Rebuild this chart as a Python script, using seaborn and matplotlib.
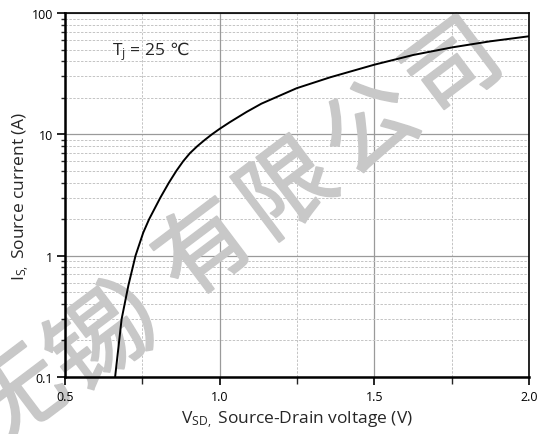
import numpy as np
import pandas as pd
import matplotlib
matplotlib.use("Agg")
import matplotlib.pyplot as plt
import matplotlib.ticker as mticker
import matplotlib.transforms as mtransforms
import matplotlib.patheffects as pe
import seaborn as sns

# Data
vsd = [0.662, 0.683, 0.705, 0.728, 0.753, 0.772, 0.808, 0.836, 0.860, 0.882,
       0.904, 0.928, 0.952, 0.975, 1.000, 1.033, 1.087, 1.135, 1.249, 1.357,
       1.500, 1.626, 1.752, 1.874, 2.000]
i_s = [0.10, 0.30, 0.57, 1.0, 1.55, 2.0, 3.0, 4.0, 5.0, 6.0,
       7.0, 8.0, 9.0, 10.0, 11.1, 12.6, 15.3, 17.9, 24.0, 29.5,
       37.5, 45.1, 52.1, 58.4, 64.3]
x_ticks = [0.5, 1.0, 1.5, 2.0]
x_tick_labels = ["0.5", "1.0", "1.5", "2.0"]
x_minor_ticks = [0.75, 1.25, 1.75]
y_ticks = [0.1, 1, 10, 100]
y_tick_labels = ["0.1", "1", "10", "100"]
annotation_main = "T$_j$ = 25"
annotation_unit = "\u2103"
watermark = "无锡）有限公司"
xlabel = "V$_{SD,}$ Source-Drain voltage (V)"
ylabel = "I$_{S,}$ Source current (A)"

sns.set_theme(style="white")
plt.rcParams['font.family'] = ['Open Sans', 'DejaVu Sans']
plt.rcParams['mathtext.default'] = 'regular'

df = pd.DataFrame({"V": vsd, "I": i_s})

W, H = 542, 435
rect = [65 / W, 1 - 378 / H, (529 - 65) / W, (378 - 14) / H]
fig = plt.figure(figsize=(W / 100, H / 100), dpi=100)


def setup_axis(a):
    a.set_yscale("log")
    a.set_xlim(0.5, 2.0)
    a.set_ylim(0.1, 100)
    a.xaxis.set_major_locator(mticker.FixedLocator(x_ticks))
    a.xaxis.set_minor_locator(mticker.FixedLocator(x_minor_ticks))
    a.yaxis.set_major_locator(mticker.FixedLocator(y_ticks))
    a.yaxis.set_minor_locator(mticker.LogLocator(base=10, subs=np.arange(2, 10), numticks=20))
    a.yaxis.set_minor_formatter(mticker.NullFormatter())


# Background axes: grid only
ax_bg = fig.add_axes(rect, zorder=0)
setup_axis(ax_bg)
ax_bg.grid(which="major", color="#9a9a9a", lw=0.9, ls="-")
ax_bg.grid(which="minor", color="#c4c4c4", lw=0.7, ls=(0, (2.5, 1.5)))
ax_bg.tick_params(which="both", length=0, labelbottom=False, labelleft=False)
for s in ax_bg.spines.values():
    s.set_visible(False)

# Watermark between grid and data, one character at a time
wm_color = "#c8c8c8"
wm_centers = [(20, 400), (97, 347), (160, 300), (206, 253), (289, 193), (372, 132), (455, 72)]
for ch, (px, py) in zip(watermark, wm_centers):
    fig.text(px / W, 1 - py / H, ch, fontsize=67, color=wm_color, rotation=37,
             ha="center", va="center", rotation_mode="anchor",
             family=['Noto Sans CJK SC', 'DejaVu Sans'], zorder=0.5,
             path_effects=[pe.withStroke(linewidth=1.4, foreground=wm_color)])

# Front axes: curve, ticks, labels
ax = fig.add_axes(rect, zorder=1)
ax.set_facecolor("none")
sns.lineplot(data=df, x="V", y="I", sort=False, color="black", lw=1.4, ax=ax)
setup_axis(ax)
ax.xaxis.set_major_formatter(mticker.FixedFormatter(x_tick_labels))
ax.yaxis.set_major_formatter(mticker.FixedFormatter(y_tick_labels))

ax.tick_params(axis="both", which="major", direction="out", length=5.5, width=1.2,
               labelsize=9, colors="black", pad=3, bottom=True, left=True)
ax.tick_params(axis="x", which="major", pad=4)
ax.tick_params(axis="x", which="minor", direction="out", length=5, width=1.0, bottom=True)
ax.tick_params(axis="y", which="minor", direction="out", length=3, width=1.0, left=True)

for side in ["left", "bottom"]:
    ax.spines[side].set_color("black")
    ax.spines[side].set_linewidth(1.8)
for side in ["top", "right"]:
    ax.spines[side].set_color("black")
    ax.spines[side].set_linewidth(1.2)

ax.set_xlabel(xlabel, fontsize=12.5, labelpad=4)
ax.set_ylabel(ylabel, fontsize=12.5, labelpad=0)

# Annotation: main part in Open Sans, the degree-Celsius sign in DejaVu Sans
ann_x, ann_y = 0.652, 45.9
t1 = ax.text(ann_x, ann_y, annotation_main, fontsize=12.5, ha="left", va="baseline")
fig.canvas.draw()
bb = t1.get_window_extent()
y_disp = ax.transData.transform((ann_x, ann_y))[1]
fig.text(bb.x1 + 4, y_disp, annotation_unit, transform=mtransforms.IdentityTransform(),
         fontsize=12.5, ha="left", va="baseline", family=['DejaVu Sans'], zorder=2)

fig.savefig("out.png", dpi=100, facecolor="white")
